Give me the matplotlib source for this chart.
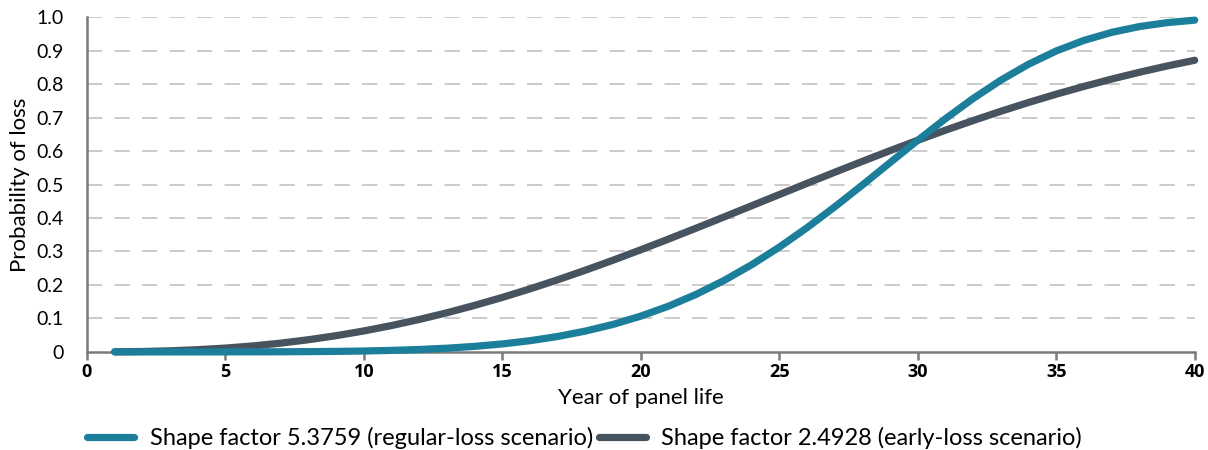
import matplotlib
matplotlib.use("Agg")
import matplotlib.pyplot as plt

years = list(range(1, 41))
regular_loss = [0.0000, 0.0000, 0.0000, 0.0000, 0.0001, 0.0002, 0.0004, 0.0008, 0.0015, 0.0027,
                0.0045, 0.0072, 0.0111, 0.0165, 0.0238, 0.0335, 0.0461, 0.0622, 0.0822, 0.1069,
                0.1366, 0.1720, 0.2132, 0.2602, 0.3129, 0.3709, 0.4331, 0.4985, 0.5654, 0.6321,
                0.6966, 0.7569, 0.8116, 0.8592, 0.8989, 0.9304, 0.9544, 0.9717, 0.9834, 0.9909]
early_loss = [0.0002, 0.0012, 0.0032, 0.0066, 0.0114, 0.0179, 0.0262, 0.0364, 0.0485, 0.0626,
              0.0787, 0.0969, 0.1169, 0.1390, 0.1628, 0.1883, 0.2155, 0.2441, 0.2740, 0.3051,
              0.3370, 0.3697, 0.4029, 0.4364, 0.4700, 0.5034, 0.5365, 0.5691, 0.6011, 0.6321,
              0.6622, 0.6910, 0.7187, 0.7450, 0.7698, 0.7930, 0.8148, 0.8352, 0.8539, 0.8711]
labels = ["Shape factor 5.3759 (regular-loss scenario)",
          "Shape factor 2.4928 (early-loss scenario)"]
xticks = [0, 5, 10, 15, 20, 25, 30, 35, 40]
yticks = [0, 0.1, 0.2, 0.3, 0.4, 0.5, 0.6, 0.7, 0.8, 0.9, 1.0]
ytick_labels = ["0", "0.1", "0.2", "0.3", "0.4", "0.5", "0.6", "0.7", "0.8", "0.9", "1.0"]

plt.rcParams['font.family'] = ['Lato', 'DejaVu Sans']

fig = plt.figure(figsize=(12.08, 4.5), dpi=100)
ax = fig.add_axes([0.072, 0.218, 0.917, 0.744])

teal = "#1b7f9c"
slate = "#47535f"

ax.plot(years, early_loss, color=slate, lw=5.2, solid_capstyle='round', clip_on=False, zorder=3, label=labels[1])
ax.plot(years, regular_loss, color=teal, lw=5.2, solid_capstyle='round', clip_on=False, zorder=4, label=labels[0])

ax.set_xlim(0, 40)
ax.set_ylim(0, 1.0)
ax.set_xticks(xticks)
ax.set_xticklabels([str(t) for t in xticks], fontweight='bold', fontsize=13,
                   family=['Open Sans', 'DejaVu Sans'])
ax.set_yticks(yticks)
ax.set_yticklabels(ytick_labels, fontsize=14)

for y in yticks[1:]:
    ax.axhline(y, color="#bdbdbd", lw=1.1, linestyle=(0, (10, 8)), zorder=1)

for s in ['top', 'right']:
    ax.spines[s].set_visible(False)
ax.spines['left'].set_color('#7a7a7a')
ax.spines['left'].set_linewidth(1.8)
ax.spines['bottom'].set_color('#7a7a7a')
ax.spines['bottom'].set_linewidth(1.8)

ax.tick_params(axis='x', direction='out', length=6, width=1.8, color='#7a7a7a', pad=2)
ax.tick_params(axis='y', length=0, pad=17)

ax.set_xlabel("Year of panel life", fontsize=16, labelpad=5)
ax.set_ylabel("Probability of loss", fontsize=16, labelpad=4)

h, l = ax.get_legend_handles_labels()
leg = fig.legend([h[1], h[0]], [l[1], l[0]], loc='center left', bbox_to_anchor=(0.072, 0.027),
                 ncol=2, frameon=False, fontsize=17, handlelength=2.0, columnspacing=0.25,
                 handletextpad=0.65, borderaxespad=0, borderpad=0)

fig.savefig("out.png", dpi=100)
